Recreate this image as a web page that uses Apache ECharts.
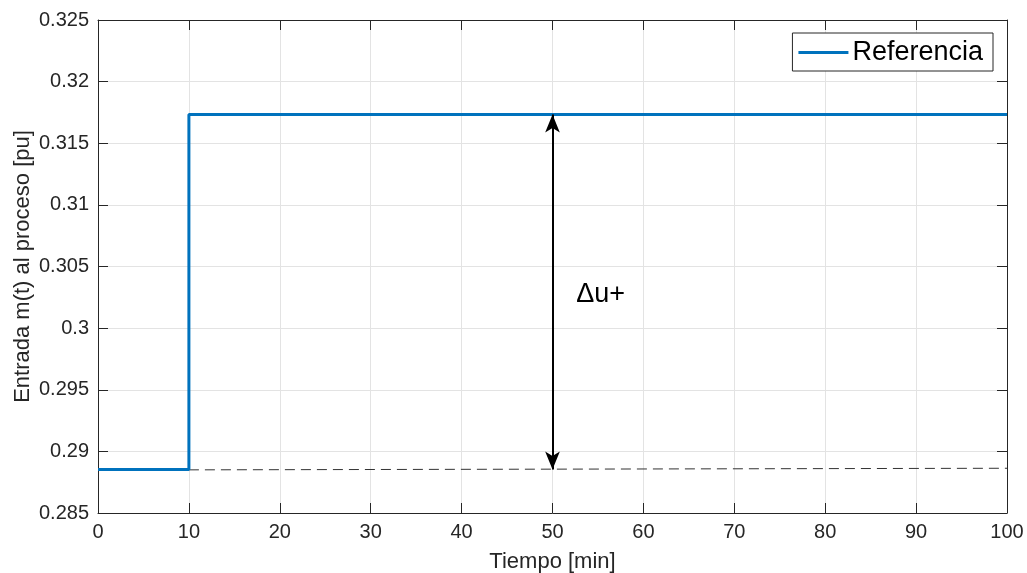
<!DOCTYPE html>
<html>
<head>
<meta charset="utf-8">
<script src="https://cdn.jsdelivr.net/npm/echarts@6/dist/echarts.min.js"></script>
<style>html,body{margin:0;padding:0;background:#fff}#c{width:1027px;height:573px}</style>
</head>
<body>
<div id="c"></div>
<script>
// Data
const referenciaX = [0, 10, 10, 100];
const referenciaY = [0.28853, 0.28853, 0.31733, 0.31733];
const baselineX = [10, 100];
const baselineY = [0.28850, 0.28863];
const arrowX = 50;
const arrowFromY = 0.28853;
const arrowToY = 0.31733;
const labelText = 'Δu+';
const labelPos = [52.6, 0.3027];
const xTicks = [0, 10, 20, 30, 40, 50, 60, 70, 80, 90, 100];
const yTicks = [0.285, 0.29, 0.295, 0.3, 0.305, 0.31, 0.315, 0.32, 0.325];

const FONT = 'Liberation Sans, Arial, sans-serif';
const chart = echarts.init(document.getElementById('c'), null, {renderer: 'canvas'});
const axisCommon = {
  axisLine: {show: true, onZero: false, lineStyle: {color: '#262626', width: 1}},
  axisTick: {show: true, inside: true, length: 10, lineStyle: {color: '#262626'}},
  splitLine: {show: false}
};
chart.setOption({
  animation: false,
  backgroundColor: '#ffffff',
  grid: {left: 98, right: 20, top: 20, bottom: 60, containLabel: false, outerBoundsMode: 'none'},
  legend: {
    right: 34, top: 33,
    data: ['Referencia'],
    itemWidth: 50, itemHeight: 3, itemGap: 0,
    icon: 'rect',
    padding: [6, 10, 5, 6],
    borderColor: '#262626', borderWidth: 1, borderRadius: 0,
    backgroundColor: '#fff',
    textStyle: {fontSize: 27, color: '#000', fontFamily: FONT, padding: [0, 0, 0, -1]}
  },
  xAxis: [
    Object.assign({}, axisCommon, {
      type: 'value', min: 0, max: 100, interval: 10, position: 'bottom',
      splitLine: {show: true, lineStyle: {color: '#e3e3e3', width: 1}},
      axisLabel: {fontSize: 20, color: '#262626', fontFamily: FONT, margin: 9},
      name: 'Tiempo [min]', nameLocation: 'middle', nameGap: 38,
      nameTextStyle: {fontSize: 22, color: '#262626', fontFamily: FONT}
    }),
    Object.assign({}, axisCommon, {
      type: 'value', min: 0, max: 100, interval: 10, position: 'top',
      axisLabel: {show: false}
    })
  ],
  yAxis: [
    Object.assign({}, axisCommon, {
      type: 'value', min: 0.285, max: 0.325, interval: 0.005, position: 'left',
      splitLine: {show: true, lineStyle: {color: '#e3e3e3', width: 1}},
      axisLabel: {fontSize: 20, color: '#262626', fontFamily: FONT, margin: 9,
        formatter: v => String(parseFloat(v.toFixed(3)))},
      name: 'Entrada m(t) al proceso [pu]', nameLocation: 'middle', nameGap: 64,
      nameMoveOverlap: false,
      nameTextStyle: {fontSize: 22, color: '#262626', fontFamily: FONT}
    }),
    Object.assign({}, axisCommon, {
      type: 'value', min: 0.285, max: 0.325, interval: 0.005, position: 'right',
      axisLabel: {show: false}
    })
  ],
  series: [
    {
      name: 'baseline', type: 'line', showSymbol: false, silent: true,
      data: baselineX.map((x, i) => [x, baselineY[i]]),
      lineStyle: {color: '#333333', width: 1, type: [10, 6]},
      z: 2
    },
    {
      name: 'Referencia', type: 'line', showSymbol: false,
      data: referenciaX.map((x, i) => [x, referenciaY[i]]),
      lineStyle: {color: '#0072BD', width: 3},
      itemStyle: {color: '#0072BD'},
      z: 3
    },
    {
      name: 'arrow', type: 'line', showSymbol: false, silent: true, data: [],
      markLine: {
        silent: true, animation: false,
        symbol: ['arrow', 'arrow'], symbolSize: [11, 18],
        lineStyle: {color: '#000', width: 2, type: 'solid'},
        label: {show: false},
        data: [[{coord: [arrowX, arrowFromY]}, {coord: [arrowX, arrowToY]}]]
      },
      markPoint: {
        silent: true, symbol: 'circle', symbolSize: 0,
        label: {show: true, formatter: labelText, fontSize: 27, color: '#000', fontFamily: FONT,
          position: 'right', distance: 0},
        data: [{coord: labelPos}]
      },
      z: 4
    }
  ]
});
</script>
</body>
</html>
